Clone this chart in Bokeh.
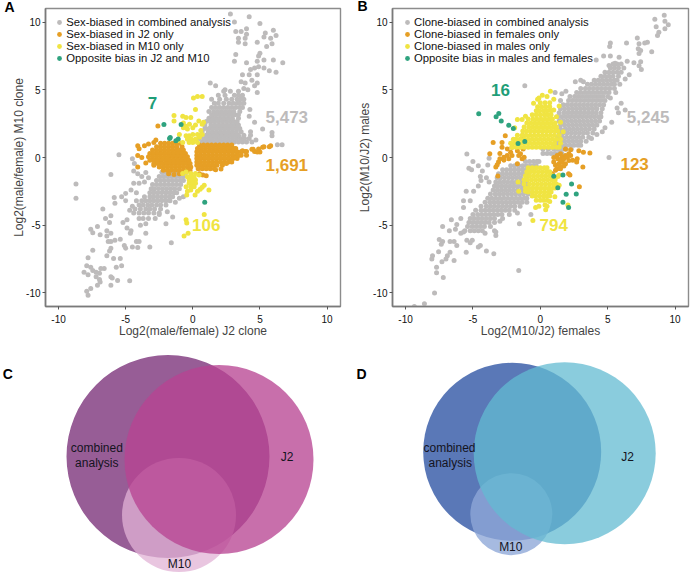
from bokeh.plotting import figure
from bokeh.layouts import column, row
from bokeh.models import ColumnDataSource, FixedTicker, Legend, LegendItem, Range1d, Title
from bokeh.core.properties import value
from bokeh.embed import file_html
from bokeh.resources import INLINE

# ---------- panel A ----------
a_gray_rows = {
1.15:[0.7,1.0,1.3,1.6,1.9,2.2,2.5,2.8,3.1,3.4,3.7,4.0,4.4],
1.4:[0.5,0.85,1.15,1.45,1.75,2.05,2.35,2.65,2.95,3.25,3.55,3.85,4.2],
1.65:[0.6,1.0,1.3,1.6,1.9,2.2,2.5,2.8,3.1,3.4,3.8,4.3],
1.9:[0.7,1.15,1.45,1.75,2.05,2.35,2.65,2.95,3.25,3.6],
2.15:[0.9,1.2,1.5,1.8,2.1,2.4,2.7,3.0,3.3,3.5],
2.4:[0.9,1.35,1.65,1.95,2.25,2.55,2.85,3.15,3.4],
2.65:[1.0,1.3,1.6,1.9,2.2,2.5,2.8,3.05,3.3],
2.9:[1.2,1.5,1.75,2.05,2.35,2.65,2.95,3.4],
3.15:[1.4,1.7,2.0,2.3,2.6,2.9,3.15,3.4],
3.4:[1.2,1.55,1.85,2.15,2.45,2.75,3.05,3.5],
3.7:[1.4,1.7,2.0,2.3,2.6,2.9,3.2,3.5,3.7],
4.0:[1.6,1.9,2.3,2.7,3.0,3.3,3.5,3.8],
4.3:[1.4,2.0,2.5,2.9,3.3,3.6,3.8],
4.6:[1.9,2.4,3.1,3.4,3.7],
4.9:[2.3,2.8,3.4],
-1.1:[-2.3,-2.0,-1.7,-1.4,-1.1,-0.8,-0.5],
-1.4:[-2.5,-2.2,-1.9,-1.6,-1.3,-1.0,-0.7],
-1.7:[-2.7,-2.4,-2.1,-1.8,-1.5,-1.2,-0.9,-0.7],
-2.0:[-3.0,-2.7,-2.4,-2.1,-1.8,-1.5,-1.2,-0.9],
-2.3:[-3.1,-2.85,-2.55,-2.25,-1.95,-1.65,-1.35,-1.0],
-2.6:[-3.2,-2.9,-2.6,-2.3,-2.0,-1.7,-1.4,-1.2],
-2.9:[-3.6,-3.2,-2.95,-2.65,-2.35,-2.05,-1.75,-1.5],
-3.2:[-3.8,-3.5,-3.2,-2.9,-2.6,-2.3,-2.0,-1.7],
-3.5:[-4.0,-3.7,-3.35,-3.05,-2.7,-2.4,-2.0],
-3.8:[-4.3,-3.9,-3.5,-3.2,-2.85,-2.4],
-4.1:[-4.4,-4.0,-3.65,-3.3,-2.9,-2.5],
-4.5:[-4.0,-3.7,-3.3,-2.8],
}
a_gray_sparse = [(2.8,10.6),(4.2,10.4),(3.1,10.0),(5.0,9.9),(4.0,9.5),(3.2,9.3),(3.6,9.3),(6.0,9.4),(5.4,9.2),(4.0,9.1),(5.3,8.9),(5.8,8.8),(6.2,9.0),(3.4,8.8),(3.9,8.8),(5.9,8.4),(4.8,8.5),(3.4,8.5),(3.9,8.4),(5.5,8.2),(5.0,7.7),(4.9,7.5),(3.2,7.6),(4.0,7.0),(3.1,7.1),(6.0,7.2),(6.7,7.0),(5.3,7.2),(4.8,7.1),(4.6,6.6),(4.3,6.5),(4.9,6.7),(5.3,6.6),(5.7,6.4),(6.2,6.3),(3.7,6.1),(4.2,6.1),(4.8,6.1),(4.4,5.7),(3.6,5.6),(3.9,5.5),(4.8,5.5),(4.6,5.3),(1.3,5.5),(1.7,5.3),(2.4,5.0),(3.8,5.1),(4.1,5.0),(4.8,4.8),(3.6,4.5),
(5.2,2.1),(5.9,1.85),(5.9,1.6),(6.65,0.95),(6.3,0.95),(4.2,3.05),(4.25,3.55),(4.6,2.6),(4.3,1.9),(4.7,1.3),
(-8.7,-1.96),(-8.7,-3.0),(-6.1,-1.26),(-5.85,-2.96),(-5.5,0.2),(-4.5,-0.1),(-4.35,-0.45),(-5.3,-2.9),(-5,-2.65),(-5.8,-3.37),(-6.7,-3.8),(-5,-3.2),(-6.1,-4.3),(-6.5,-4.5),(-6.2,-4.8),(-7.6,-5.3),(-7.1,-5.1),(-7.45,-5.56),(-6.9,-5.7),(-6.4,-5.4),(-6.1,-5.6),(-6.4,-5.8),(-6.3,-6.2),(-6.1,-6.2),(-5.8,-6.1),(-5.4,-6.04),(-5.2,-4.8),(-4.9,-4.6),(-4.9,-5.2),(-4.6,-5.4),(-4.65,-5.6),(-5.1,-6.5),(-5,-6.7),(-4.5,-6.6),(-4.1,-6.65),(-4.2,-6.2),(-4,-6.2),(-3.2,-6.6),(-3.5,-5.6),(-1.6,-6.3),(-7.45,-6.85),(-6.1,-6.7),(-6.2,-6.9),(-6.4,-7.25),(-7.8,-7.4),(-5.9,-7.45),(-5.4,-7.45),(-6.6,-8.2),(-7.9,-8),(-7.6,-8.1),(-7.45,-8.35),(-6.85,-8.2),(-5.7,-8.1),(-5.3,-8.0),(-8.1,-8.47),(-7.8,-8.66),(-7.2,-8.47),(-6.95,-8.55),(-7.2,-8.8),(-6.95,-9),(-6.1,-8.8),(-6,-8.9),(-5.6,-9.08),(-4.7,-9.1),(-7.1,-9.44),(-6.9,-9.2),(-6.1,-9.44),(-7.6,-9.68),(-7.9,-9.88),(-7.8,-10.17),
(-1.3,-3.3),(-1.0,-3.0),(-0.7,-2.9),(-3.5,-4.9),(-3.9,-5.0),(-2,-4.9),(-2.5,-4.2),(-1.9,-4.0),(-1.5,-4.4),(-3.5,-1.1),(-3.8,-1.4),(-4,-1.9),(-4.4,-1.9),(-4.1,-1.2),(-4.4,-1),(-4.6,-2.4),(-4.2,-2.6),(-3.6,-1.8),(-3.3,-1.5),(-4.2,-3.2),(-4.5,-3.6),(-4.7,-3.9)]
a_orange_rows = {
1.05:[-2.4,-2.1,-1.8,-1.5,-1.2,-1.0],
0.8:[-2.7,-2.4,-2.1,-1.8,-1.5,-1.2,-0.8],
0.55:[-3.0,-2.7,-2.4,-2.1,-1.8,-1.5,-1.2,-0.95,-0.7],
0.3:[-3.2,-2.9,-2.6,-2.3,-2.0,-1.7,-1.4,-1.1,-0.8,-0.55],
0.05:[-3.3,-3.0,-2.7,-2.4,-2.1,-1.8,-1.5,-1.2,-0.9,-0.6,-0.4],
-0.2:[-3.2,-2.9,-2.6,-2.3,-2.0,-1.7,-1.4,-1.1,-0.8,-0.5,-0.3],
-0.45:[-2.9,-2.6,-2.3,-2.0,-1.7,-1.4,-1.1,-0.8,-0.5,-0.2],
-0.7:[-2.5,-2.2,-1.9,-1.6,-1.3,-1.0,-0.7,-0.4,-0.15],
-0.95:[-2.2,-1.9,-1.6,-1.3,-1.0,-0.7,-0.4,-0.2],
0.92:[0.5,0.8,1.1,1.4,1.7,2.0,2.3,2.6,2.9],
0.67:[0.35,0.65,0.95,1.25,1.55,1.85,2.15,2.45,2.75,3.05,3.2],
0.42:[0.3,0.6,0.9,1.2,1.5,1.8,2.1,2.4,2.7,3.0,3.3,3.6],
0.17:[0.3,0.55,0.85,1.15,1.45,1.75,2.05,2.35,2.65,2.95,3.25,3.6,4.0],
-0.08:[0.3,0.6,0.9,1.2,1.5,1.8,2.1,2.4,2.7,3.0,3.3],
-0.33:[0.3,0.55,0.85,1.15,1.45,1.75,2.05,2.35,2.65,2.9],
-0.58:[0.3,0.6,0.9,1.2,1.5,1.8,2.2],
-0.83:[0.4,0.7,1.0,1.3,1.6],
}
a_orange_sparse = [(-2.6,2.33),(-4.1,0.87),(-4.0,0.64),(-4.1,0.15),(-3.8,0.0),(-3.5,-0.4),(-4.1,-0.7),(-2.9,-0.58),(-3.6,0.87),(-3.3,1.0),(-2.9,1.1),(-2.75,1.3),(-1.8,-1.2),(-1.4,-1.25),(-1.0,-1.2),(1.0,-1.35),(0.75,-1.3),(0.5,-1.2),(1.7,-0.9),(2.1,-0.85),(2.5,-0.45),(2.85,-0.3),(3.2,0.0),(4.5,0.6),(4.6,0.45),(5.0,0.4),(5.2,0.75),(5.7,0.8),(3.7,0.5),(4.0,0.45),(3.4,0.15),(5.8,0.87),(5.3,0.8),(4.9,0.63),(4.8,0.4),(4.4,0.6),(3.9,0.44)]
a_yellow = [(0.35,4.5),(0.05,4.4),(0.7,4.5),(-1.4,3.1),(-1.4,2.7),(-0.75,3.05),(-0.5,2.95),(-0.15,2.95),(0.2,3.55),(0.45,2.7),(0.7,2.45),(0.8,2.6),(-0.7,2.55),(-0.5,2.3),(-0.25,2.45),(0,2.2),(0.2,2.4),(-0.7,2.2),(-0.4,2.1),(0.6,2),(-1,1.7),(-0.5,1.6),(-0.27,1.6),(0,1.7),(0.35,1.7),(0.7,1.7),(-0.4,1.35),(-0.1,1.35),(0.2,1.35),(0.5,1.5),(0,1.1),(0.35,1.1),(-0.27,1.1),(-1.1,1.25),(-0.75,1.1),
(-0.75,-1.19),(-0.5,-1.07),(-0.15,-1.19),(0.2,-1.19),(0.47,-1.3),(-0.4,-1.43),(-0.15,-1.43),(0.1,-1.43),(-0.27,-1.67),(0,-1.67),(0.2,-1.67),(-0.27,-1.9),(0,-1.9),(0.2,-1.9),(-0.15,-2.16),(0.1,-2.16),(-0.5,-2.16),(-0.4,-2.5),(-0.15,-2.4),(0.85,-2.04),(0.7,-2.2),(0.55,-2.35),(0.35,-2.5),(0.17,-2.76),(-0.45,-2.76),(1.2,-2.4),(0.85,-4.2),(-0.5,-4.6),(-0.45,-4.83),(-0.35,-5.6),(-0.65,-5.8)]
a_green = [(-2.15,2.43),(-0.87,2.43),(-1.73,1.4),(-1.68,1.48),(-1.26,1.24),(-1.09,1.36),(0.89,-3.3)]

# ---------- panel B ----------
b_gray_rows = {
0.3:[0.2,0.5,0.8,1.1,1.4,1.6],
0.6:[0.2,0.6,1.0,1.3,1.6,1.9,2.3],
0.9:[1.0,1.3,1.6,1.9,2.2,2.5,2.8,3.0],
1.2:[1.2,1.5,1.8,2.1,2.4,2.7,3.0,3.4],
1.5:[1.3,1.65,1.95,2.25,2.55,2.85,3.15,3.6],
1.8:[1.4,1.7,2.0,2.3,2.6,2.9,3.2,3.5,3.9],
2.1:[1.5,1.85,2.15,2.45,2.75,3.05,3.35,3.65,4.0],
2.4:[1.5,1.8,2.1,2.4,2.7,3.0,3.3,3.6,3.9,4.2],
2.7:[1.4,1.7,2.0,2.3,2.6,2.9,3.2,3.5,3.8,4.1,4.4],
3.0:[1.3,1.6,1.9,2.2,2.5,2.8,3.1,3.4,3.7,4.0,4.3,4.5],
3.3:[1.4,1.75,2.05,2.35,2.65,2.95,3.25,3.55,3.85,4.15,4.5],
3.6:[1.5,1.8,2.1,2.4,2.7,3.0,3.3,3.6,3.9,4.2,4.6],
3.9:[1.7,2.0,2.3,2.6,2.9,3.2,3.5,3.8,4.1,4.4,4.7],
4.2:[1.5,2.1,2.4,2.7,3.0,3.3,3.6,3.9,4.2,4.5,4.8],
4.5:[2.2,2.55,2.85,3.15,3.45,3.75,4.05,4.35,4.65,5.0],
4.8:[2.7,3.0,3.3,3.6,3.9,4.2,4.5,4.8,5.1],
5.1:[3.0,3.35,3.65,3.95,4.25,4.55,4.85,5.15,5.5],
5.4:[3.5,3.8,4.1,4.4,4.7,5.0,5.3,5.5],
5.7:[4.0,4.3,4.6,4.9,5.2,5.5,5.7],
6.0:[4.5,4.8,5.1,5.4,5.8],
6.3:[4.8,5.1,5.4,5.7,6.0],
6.6:[5.2,5.5,5.8,6.2],
6.9:[5.4,5.7,6.0],
-0.3:[-1.1,-0.8,-0.5,-0.25,-0.1],
-0.6:[-2.2,-1.9,-1.6,-1.3,-1.0,-0.7,-0.45,-0.3],
-0.9:[-2.8,-2.5,-2.2,-1.9,-1.6,-1.3,-1.0,-0.6],
-1.2:[-3.1,-2.8,-2.5,-2.2,-1.9,-1.6,-1.3,-1.0],
-1.5:[-3.2,-2.95,-2.65,-2.35,-2.05,-1.75,-1.45,-1.0],
-1.8:[-3.3,-3.0,-2.7,-2.4,-2.1,-1.8,-1.5,-1.2,-1.0],
-2.1:[-3.4,-3.15,-2.85,-2.55,-2.25,-1.95,-1.65,-1.35,-1.0],
-2.4:[-3.5,-3.2,-2.9,-2.6,-2.3,-2.0,-1.7,-1.4,-1.1,-0.9],
-2.7:[-3.7,-3.35,-3.05,-2.75,-2.45,-2.15,-1.85,-1.55,-1.25,-0.9],
-3.0:[-3.9,-3.6,-3.3,-3.0,-2.7,-2.4,-2.1,-1.8,-1.5,-1.2,-1.0],
-3.3:[-4.1,-3.75,-3.45,-3.15,-2.85,-2.55,-2.25,-1.95,-1.65,-1.35,-1.0],
-3.6:[-4.4,-4.0,-3.7,-3.4,-3.1,-2.8,-2.5,-2.2,-1.9,-1.5],
-3.9:[-4.8,-4.4,-4.1,-3.8,-3.5,-3.2,-2.9,-2.6,-2.3,-1.9],
-4.2:[-5.0,-4.65,-4.35,-4.05,-3.75,-3.45,-3.15,-2.85,-2.3],
-4.5:[-5.2,-4.9,-4.6,-4.3,-4.0,-3.7,-3.4,-2.8],
-4.8:[-5.3,-5.0,-4.7,-4.4,-4.1,-3.8,-3.4],
-5.1:[-5.4,-5.05,-4.75,-4.45,-4.15,-3.7],
-5.4:[-5.6,-5.2,-4.9,-4.6,-4.3,-3.4],
}
b_gray_sparse = [(9.2,10.5),(8.5,10.2),(9.25,10.05),(9.5,9.8),(8.6,9.66),(9.25,9.5),(8.8,9.25),(8.7,9),(7.2,8.83),(7.95,8.5),(7.75,8.45),(6.4,8.45),(5.2,8.45),(7.33,8.4),(5.15,8.2),(7.27,8.03),(7.45,7.9),(7.33,7.67),(8.27,7.8),(4.7,7.5),(5.2,7.5),(4.15,7.2),(6.45,7.1),(6.95,7),(7.45,7.07),(7.33,6.77),(7.5,6.5),(5.85,7.4),(5.55,6.95),(5.1,6.8),
(1.1,4.8),(1.6,4.7),(1.9,4.9),(2.6,5.6),(3.0,5.7),(3.2,5.6),(-1.15,5.3),(6.0,4.0),(6.3,3.5),(5.8,3.3),(5.7,3.66),(4.8,2.2),(4.6,1.9),(4.2,1.7),(3.8,1.4),(5.3,2.6),(5.1,0.0),(5.2,4.4),(5.6,4.8),(5.9,5.4),(6.3,5.8),(6.6,6.1),
(-5.45,0.25),(-5,-0.3),(-4.6,-0.6),(-3.9,-0.55),(-3.8,-0.05),(-5.3,-0.8),(-5.1,-0.9),(-4.45,-1.4),(-4.3,-1.0),(-4.0,-1.5),(-3.8,-1.8),(-4.4,-1.7),(-4.6,-2.1),(-5.5,-2.5),(-4.95,-2.5),(-5.7,-3.2),(-5.2,-3.2),(-5.7,-3.7),(-5.9,-4.5),(-6.6,-4.6),(-7.25,-5.1),(-6.2,-4.95),(-6.3,-5.3),(-6.75,-5.4),(-5.9,-5.6),(-5.7,-5.5),(-7.5,-6.05),(-7.25,-6.2),(-6.7,-6.2),(-6.4,-6.2),(-6.2,-6.5),(-7.35,-6.4),(-5.5,-7),(-5.05,-6.1),(-5.45,-6.1),(-4.45,-6.5),(-4.6,-6.6),(-4.0,-6.9),(-3.45,-7.1),(-8,-7.25),(-8.05,-7.5),(-7.55,-6.95),(-7.3,-7.7),(-6.9,-7.25),(-6.7,-7),(-7,-7.5),(-6.4,-7.6),(-7.7,-8.1),(-7.7,-8.5),(-7.2,-8.85),(-7.85,-10),(-8.6,-10.8),(-9.35,-11),(-1.6,-8.35),(-1.55,-4.9),(-3.3,-5.5),(-3.3,-5.75),(-0.7,-4.2),(-1.7,-4.1),(-3,-4.7),(-4.1,-5.6),(-5.2,-6.3)]
b_orange = [(1,0),(1.25,0.15),(1.5,0.27),(1.87,0.63),(2.25,0.58),(2.86,0.5),(3.2,0.39),(3.68,0.34),(2.74,-0.1),(2.7,-0.34),(3.16,-0.7),(2.1,-1.2),(2.2,-1.3),(1.25,-0.83),(1.13,-0.58),(1.38,-0.46),(1.63,-0.34),(1.87,-0.46),(2.12,-0.22),(1.63,0.02),(1.87,0.15),(2.12,0.27),(1,-0.34),(1.3,-0.1),(1.5,-0.22),(1.75,-0.1),(2,0.02),(1.75,-0.63),(1.45,-0.63),(2.25,0.15),(2.4,-0.2),(1.13,-0.95),(1.5,-0.83),(0.9,-1.2),(2.9,-2.16),
(-3.5,1.1),(-3.75,0.27),(-2.84,0.75),(-2.6,1.6),(-2.1,0.75),(-2.45,0.63),(-3,-0.1),(-3.1,-0.34),(-2.7,0.02),(-2.45,0.15),(-2.7,-0.2),(-2.34,-0.1),(-2.1,0.15),(-2.2,0.39),(-1.7,0.5),(-1.6,0.15),(-1.35,-0.1),(-1.47,0.27),(-1.2,0.02),(-3.3,-0.7),(-3.15,-1.36),(-1.7,-0.46),(-2.84,1.1),(-3.0,0.3),(-1.27,1.6),(-1.7,1.0),(-1.27,0.63),(-3.2,-0.53)]
b_yellow_rows = {
0.75:[-2.1,-1.8,-1.5,-1.2,-0.9,-0.6,-0.3,0,0.3,0.6,0.9,1.2,1.4],
1.05:[-2.2,-1.95,-1.65,-1.35,-1.05,-0.75,-0.45,-0.15,0.15,0.45,0.75,1.05,1.5],
1.35:[-2.0,-1.8,-1.5,-1.2,-0.9,-0.6,-0.3,0,0.3,0.6,0.9,1.2,1.5],
1.65:[-1.7,-1.35,-1.05,-0.75,-0.45,-0.15,0.15,0.45,0.75,1.05,1.4],
1.95:[-1.3,-1.0,-0.7,-0.4,-0.1,0.2,0.5,0.8,1.1,1.3],
2.25:[-1.2,-0.85,-0.55,-0.25,0.05,0.35,0.65,0.95,1.2],
2.55:[-1.0,-0.7,-0.4,-0.1,0.2,0.5,0.8,1.1],
2.85:[-0.9,-0.55,-0.25,0.05,0.35,0.65,0.9],
3.15:[-0.6,-0.3,0,0.3,0.55,0.8],
3.45:[-0.3,-0.05,0.25,0.5,0.8],
3.75:[-0.2,0.1,0.4,0.7],
4.05:[0,0.35,0.7],
-0.75:[-0.9,-0.6,-0.3,0,0.3,0.5],
-1.05:[-1.0,-0.75,-0.45,-0.15,0.15,0.45,0.7],
-1.35:[-1.1,-0.8,-0.5,-0.2,0.1,0.4,0.7,0.9],
-1.65:[-1.2,-0.95,-0.65,-0.35,-0.05,0.25,0.55,0.85,1.1],
-1.95:[-1.2,-0.8,-0.5,-0.2,0.1,0.4,0.7,1.0,1.2],
-2.25:[-1.1,-0.85,-0.55,-0.25,0.05,0.35,0.65,0.95,1.1],
-2.55:[-0.9,-0.6,-0.3,0,0.3,0.6,0.8],
-2.85:[-0.6,-0.35,-0.05,0.25,0.5,0.7],
-3.15:[-0.3,0,0.25,0.5],
}
b_yellow_sparse = [(-0.5,4.0),(0.15,4.6),(0.75,4.9),(0.5,4.5),(-0.1,4.4),(1.0,4.3),(1.4,3.8),(1.0,3.5),(1.2,3.0),(-0.2,4.3),(-1.35,2.8),(-1.7,2.8),(-1.1,3.05),(-1.9,2.2),(1.7,1.9),(1.5,2.6),
(1.4,-2.05),(1.1,-2.15),(1.08,-2.9),(0.7,-3.25),(0.35,-3.5),(0.5,-3.6),(0.4,-3.85),(-0.35,-3.7),(-0.1,-3.6),(-0.55,-4.65),(-1.1,-2.5),(-1.6,-2.5),(-1.65,-1.8),(2.05,-3.5),(1.4,-1.3),(1.3,-1.4)]
b_green = [(-4.57,3.23),(-3.08,3.25),(-3.28,3),(-2.9,2.7),(-2.34,2.38),(-2.0,2.14),(-1.65,1.04),(-1.15,1.19),(1.0,-1.38),(1.68,-1.3),(1.3,-2.23),(2.32,-1.96),(1.92,-2.72),(2.67,-2.69),(1.68,-3.3),(2.1,-3.7)]

a_legend = ["Sex-biased in combined analysis","Sex-biased in J2 only","Sex-biased in M10 only","Opposite bias in J2 and M10"]
b_legend = ["Clone-biased in combined analysis","Clone-biased in females only","Clone-biased in males only","Opposite bias in males and females"]
a_counts = [("7",-3.0,4.0,"#1F9E78"),("5,473",7.0,2.96,"#BDBBBB"),("1,691",7.0,-0.53,"#E69F25"),("106",1.0,-5.0,"#F0E442")]
b_counts = [("16",-2.96,5.0,"#1F9E78"),("5,245",8.0,2.96,"#BDBBBB"),("123",7.0,-0.46,"#E69F25"),("794",1.0,-5.0,"#F0E442")]
tick_values = [-10,-5,0,5,10]
tick_labels = {-10:"-10",-5:"-5",0:"0",5:"5",10:"10"}

# venn circles: (x, y, radius, colour, alpha) in panel units
venn_c = [(167.5,116,101.5,"#975D96",1.0),(178.5,174.5,57,"#E1B3D5",0.75),(218.5,119,94.5,"#B84492",0.77)]
venn_d = [(166.7,111.3,89,"#5A78B7",1.0),(165.8,173.7,41,"#8EA8D8",0.79),(219.2,112.7,91,"#63BBD1",0.75)]
venn_c_text = [("combined",96.3,107.3),("analysis",96.3,122.3),("J2",286.7,116),("M10",179,223.3)]
venn_d_text = [("combined",104,107.3),("analysis",104.7,122.3),("J2",282,116),("M10",165.3,206.3)]

FONT = "Liberation Sans"
COLS = ["#BDBBBB","#E69F25","#F0E442","#2FA37F"]

def flat(rows, sparse):
    xs, ys = [], []
    for y, vals in rows.items():
        for x in vals:
            xs.append(x); ys.append(y)
    for x, y in sparse:
        xs.append(x); ys.append(y)
    return dict(x=xs, y=ys)

def scatter_panel(width, border_left, border_right, groups, names, counts, xlabel, ylabel, letter, letter_x, letter_standoff, standoff, legend_x):
    p = figure(width=width, height=340, x_range=Range1d(-10.97,11.0), y_range=Range1d(-11.0,11.0),
               toolbar_location=None, output_backend="svg", min_border_left=border_left,
               min_border_right=border_right, min_border_top=8, min_border_bottom=30)
    p.grid.visible = False
    p.outline_line_color = "#8c8c8c"; p.outline_line_width = 1.4
    for ax, label in ((p.xaxis[0], xlabel), (p.yaxis[0], ylabel)):
        ax.ticker = FixedTicker(ticks=tick_values)
        ax.major_label_overrides = tick_labels
        ax.minor_tick_line_color = None
        ax.axis_label = label
        ax.axis_label_text_font = FONT
        ax.axis_label_text_font_style = "normal"
        ax.axis_label_text_font_size = "12px"
        ax.major_label_text_font = FONT
        ax.major_label_text_font_size = "10px"
        ax.major_label_text_color = "#111111"
        ax.axis_line_color = "#7a7a7a"; ax.axis_line_width = 1.6
        ax.major_tick_line_color = "#555555"
        ax.major_tick_in = 0; ax.major_tick_out = 3
        ax.major_label_standoff = 2
        ax.axis_label_standoff = standoff
    p.xaxis[0].major_label_standoff = 5
    p.xaxis[0].axis_label_standoff = -2
    items = []
    for data, colour, name in zip(groups, COLS, names):
        r = p.scatter("x", "y", source=ColumnDataSource(data), size=5.0, color=colour, line_width=0)
        items.append(LegendItem(label=name, renderers=[r]))
    leg = Legend(items=items, location=(legend_x, 239), background_fill_alpha=0, border_line_alpha=0,
                 label_text_font=FONT, label_text_font_size="11.3px", label_text_color="#111111",
                 spacing=0, label_height=12, glyph_height=12, glyph_width=12, label_standoff=1, padding=3, margin=0)
    p.add_layout(leg, "center")
    for txt, x, y, colour in counts:
        p.text([x], [y], text=[txt], text_color=colour, text_font=value(FONT), text_font_style="bold",
               text_font_size="17px", text_align="center", text_baseline="middle")
    p.title = Title(text=letter, align="left", offset=letter_x, standoff=letter_standoff, text_font=FONT,
                    text_font_style="bold", text_font_size="14px", text_color="#000000", vertical_align="bottom")
    return p

def venn_panel(circles, labels, letter, letter_x):
    p = figure(width=345, height=233, x_range=Range1d(0,345), y_range=Range1d(233,0),
               toolbar_location=None, output_backend="svg", min_border=0)
    p.axis.visible = False; p.grid.visible = False; p.outline_line_color = None
    for cx, cy, r, colour, alpha in circles:
        p.circle([cx], [cy], radius=r, fill_color=colour, fill_alpha=alpha, line_color=None)
    for txt, x, y in labels:
        p.text([x], [y], text=[txt], text_color="#14141e", text_font=value(FONT), text_font_size="12px",
               text_align="center", text_baseline="middle")
    p.text([letter_x], [33.7], text=[letter], text_color="#000000", text_font=value(FONT), text_font_style="bold",
           text_font_size="14px", text_align="center", text_baseline="middle")
    return p

pa = scatter_panel(345, 45, 5, [flat(a_gray_rows,a_gray_sparse), flat(a_orange_rows,a_orange_sparse), flat({},a_yellow), flat({},a_green)],
                   a_legend, a_counts, "Log2(male/female) J2 clone", "Log2(male/female) M10 clone", "A", -41, -13, -3, 5.3)
pb = scatter_panel(345, 47, 2, [flat(b_gray_rows,b_gray_sparse), flat({},b_orange), flat(b_yellow_rows,b_yellow_sparse), flat({},b_green)],
                   b_legend, b_counts, "Log2(M10/J2) females", "Log2(M10/J2) males", "B", -35, -11, -2, 6)
pc = venn_panel(venn_c, venn_c_text, "C", 7.3)
pd = venn_panel(venn_d, venn_d_text, "D", 16)

page = column(row(pa, pb, spacing=0), row(pc, pd, spacing=0), spacing=0)
open("out.html", "w").write(file_html(page, INLINE))
